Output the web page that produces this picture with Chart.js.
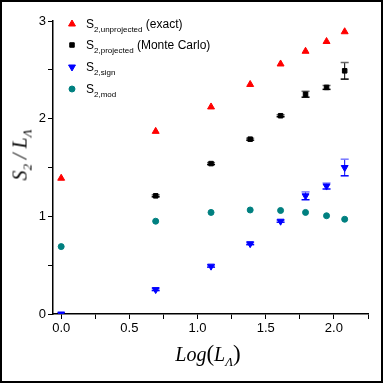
<!DOCTYPE html>
<html><head><meta charset="utf-8">
<script src="https://cdn.jsdelivr.net/npm/chart.js@4/dist/chart.umd.min.js"></script>
<style>
html,body{margin:0;padding:0;background:#fff;}
#wrap{position:relative;width:383px;height:383px;}
#frame{position:absolute;left:0;top:0;width:383px;height:383px;box-sizing:border-box;border:2px solid #000;pointer-events:none;}
.t{position:absolute;font-family:"Liberation Serif","Times New Roman",serif;font-style:italic;font-size:20px;color:#000;white-space:nowrap;}
.lg{position:absolute;font-family:"Liberation Sans",Arial,sans-serif;font-size:12px;color:#000;white-space:nowrap;line-height:12px;}
.lg sub{font-size:8px;vertical-align:-4px;}
.t sub{font-size:13px;vertical-align:-5px;}
</style></head>
<body><div id="wrap">
<canvas id="c" width="383" height="383"></canvas>
<div class="lg" style="left:86px;top:18px">S<sub>2,unprojected</sub> (exact)</div>
<div class="lg" style="left:86px;top:39px">S<sub>2,projected</sub> (Monte Carlo)</div>
<div class="lg" style="left:86px;top:61px">S<sub>2,sign</sub></div>
<div class="lg" style="left:86px;top:83px">S<sub>2,mod</sub></div>
<div class="t" id="ytitle" style="left:22px;top:155px;transform:translate(-50%,-50%) rotate(-90deg);">S<sub>2</sub> / L<sub>Λ</sub></div>
<div class="t" style="left:208px;top:355px;transform:translate(-50%,-50%);">Log<span style="font-style:normal;font-size:23px">(</span>L<sub>Λ</sub><span style="font-style:normal;font-size:23px">)</span></div>
<div id="frame"></div>
</div>
<script>
const logL = [0, 0.693, 1.099, 1.386, 1.609, 1.792, 1.946, 2.079];
const sUnprojected = [1.39, 1.87, 2.12, 2.35, 2.56, 2.69, 2.79, 2.89];
const sProjectedL = [0.693, 1.099, 1.386, 1.609, 1.792, 1.946, 2.079];
const sProjected = [1.21, 1.54, 1.79, 2.03, 2.25, 2.32, 2.49];
const sProjectedErr = [0.01, 0.01, 0.01, 0.01, 0.03, 0.02, 0.085];
const sSign = [0.0, 0.25, 0.49, 0.72, 0.95, 1.21, 1.31, 1.50];
const sSignErr = [0, 0.01, 0.01, 0.01, 0.01, 0.04, 0.03, 0.085];
const sMod = [0.69, 0.95, 1.04, 1.065, 1.06, 1.04, 1.006, 0.97];
const xTicks = [0, 0.25, 0.5, 0.75, 1.0, 1.25, 1.5, 1.75, 2.0, 2.25];
const xLabels = {0:'0.0', 0.5:'0.5', 1:'1.0', 1.5:'1.5', 2:'2.0'};
const yTicks = [0, 0.5, 1, 1.5, 2, 2.5, 3];
const yLabels = {0:'0', 1:'1', 2:'2', 3:'3'};

const pts = (xs, ys) => xs.map((x, i) => ({x: x, y: ys[i]}));

const errPlugin = {
  id: 'err',
  beforeDatasetsDraw(chart) {
    const ctx = chart.ctx, xs = chart.scales.x, ys = chart.scales.y;
    chart.data.datasets.forEach((ds) => {
      if (!ds.err) return;
      ds.data.forEach((p, i) => {
        const e = ds.err[i]; if (!e) return;
        const px = xs.getPixelForValue(p.x);
        const top = ys.getPixelForValue(p.y + e), bot = ys.getPixelForValue(p.y - e);
        ctx.save();
        ctx.strokeStyle = ds.errColor; ctx.lineWidth = 1;
        ctx.beginPath(); ctx.moveTo(px, top); ctx.lineTo(px, bot); ctx.stroke();
        ctx.lineWidth = 1.5;
        ctx.strokeStyle = ds.capTopColor;
        ctx.beginPath(); ctx.moveTo(px - 4, top); ctx.lineTo(px + 4, top); ctx.stroke();
        ctx.strokeStyle = ds.errColor;
        ctx.beginPath(); ctx.moveTo(px - 4, bot); ctx.lineTo(px + 4, bot); ctx.stroke();
        ctx.restore();
      });
    });
  }
};

const legendMarks = {
  id: 'legendMarks',
  afterDraw(chart) {
    const ctx = chart.ctx;
    const rows = [24, 45, 67, 89];
    chart.data.datasets.forEach((ds, i) => {
      ctx.save();
      ctx.fillStyle = ds.backgroundColor; ctx.strokeStyle = ds.borderColor; ctx.lineWidth = 1;
      Chart.helpers.drawPoint(ctx, {pointStyle: ds.pointStyle, radius: ds.pointRadius, rotation: ds.rotation || 0, borderWidth: 1}, 72, rows[i]);
      ctx.restore();
    });
  }
};

new Chart(document.getElementById('c'), {
  type: 'scatter',
  data: {
    datasets: [
      {data: pts(logL, sUnprojected), pointStyle: 'triangle', pointRadius: 4, backgroundColor: '#ff0000', borderColor: '#ff0000'},
      {data: pts(sProjectedL, sProjected), err: sProjectedErr, errColor: '#000', capTopColor: '#666', pointStyle: 'rect', pointRadius: 3.2, backgroundColor: '#000', borderColor: '#000'},
      {data: pts(logL, sSign), err: sSignErr, errColor: '#0000ff', capTopColor: '#7777ff', pointStyle: 'triangle', rotation: 180, pointRadius: 4, backgroundColor: '#0000ff', borderColor: '#0000ff'},
      {data: pts(logL, sMod), pointStyle: 'circle', pointRadius: 3, backgroundColor: '#008080', borderColor: '#008080'}
    ]
  },
  options: {
    responsive: false, animation: false, devicePixelRatio: 1,
    layout: {padding: {left: 0, top: 21, right: 15, bottom: 0}},
    plugins: {legend: {display: false}, tooltip: {enabled: false}},
    scales: {
      x: {
        type: 'linear', min: -0.06, max: 2.25,
        afterBuildTicks: s => { s.ticks = xTicks.map(v => ({value: v})); },
        afterFit: s => { s.height = 69; },
        grid: {drawOnChartArea: false, drawTicks: true, tickLength: 5, color: '#000', lineWidth: 1},
        border: {display: true, color: '#000', width: 1.5},
        ticks: {autoSkip: false, maxRotation: 0, padding: 2, color: '#000', font: {family: '"Liberation Sans", Arial, sans-serif', size: 13},
          callback: v => xLabels[v] !== undefined ? xLabels[v] : ''}
      },
      y: {
        type: 'linear', min: 0, max: 3,
        afterBuildTicks: s => { s.ticks = yTicks.map(v => ({value: v})); },
        afterFit: s => { s.width = 53; },
        grid: {drawOnChartArea: false, drawTicks: true, tickLength: 5, color: '#000', lineWidth: 1},
        border: {display: true, color: '#000', width: 1.5},
        ticks: {autoSkip: false, padding: 2, color: '#000', font: {family: '"Liberation Sans", Arial, sans-serif', size: 13},
          callback: v => yLabels[v] !== undefined ? yLabels[v] : ''}
      }
    }
  },
  plugins: [errPlugin, legendMarks]
});
</script>
</body></html>
